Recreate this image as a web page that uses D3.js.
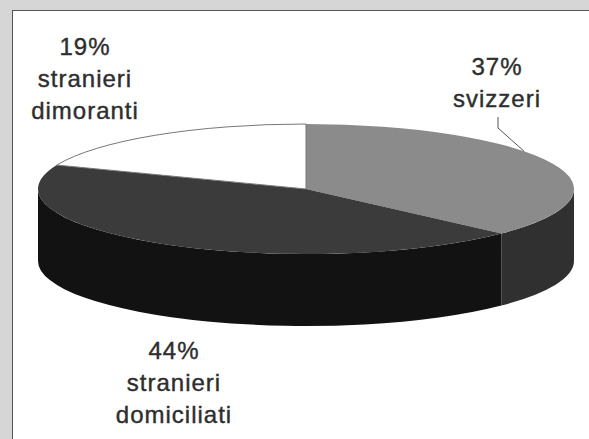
<!DOCTYPE html>
<html>
<head>
<meta charset="utf-8">
<script src="https://cdn.jsdelivr.net/npm/d3@7"></script>
<style>
  html, body { margin: 0; padding: 0; background: #d6d6d6; }
  svg { display: block; }
</style>
</head>
<body>
<svg width="589" height="439"></svg>
<script>
// slice data, clockwise from 12 o'clock
const categories = ['svizzeri', 'stranieri domiciliati', 'stranieri dimoranti'];
const values = [37, 44, 19];
const labelLines = [
  ['37%', 'svizzeri'],
  ['44%', 'stranieri', 'domiciliati'],
  ['19%', 'stranieri', 'dimoranti']
];
const topColors = ['#8b8b8b', '#3b3b3b', '#ffffff'];
const sideColors = ['#303030', '#121212', '#ffffff'];

const svg = d3.select('svg'),
  width = +svg.attr('width'),
  height = +svg.attr('height');

// white panel
svg.append('rect')
  .attr('x', 12.5).attr('y', 10.5)
  .attr('width', width).attr('height', height)
  .attr('fill', '#fff')
  .attr('stroke', '#555')
  .attr('stroke-width', 1);

const cx = 306, cy = 189, rx = 268, ry = 65, depth = 72;

const pie = d3.pie().sort(null).startAngle(0).endAngle(2 * Math.PI);
const arcs = pie(values);

const px = a => cx + rx * Math.sin(a);
const py = (a, dz) => cy - ry * Math.cos(a) + (dz || 0);

function topPath(d) {
  const large = (d.endAngle - d.startAngle) > Math.PI ? 1 : 0;
  return `M${cx},${cy} L${px(d.startAngle)},${py(d.startAngle)} ` +
    `A${rx},${ry} 0 ${large} 1 ${px(d.endAngle)},${py(d.endAngle)} Z`;
}

function sidePath(d) {
  // only front half of the rim is visible
  const a0 = Math.max(d.startAngle, Math.PI / 2);
  const a1 = Math.min(d.endAngle, Math.PI * 1.5);
  if (a1 <= a0) return null;
  return `M${px(a0)},${py(a0)} A${rx},${ry} 0 0 1 ${px(a1)},${py(a1)} ` +
    `L${px(a1)},${py(a1, depth)} A${rx},${ry} 0 0 0 ${px(a0)},${py(a0, depth)} Z`;
}

const g = svg.append('g');

g.selectAll('path.side')
  .data(arcs.filter(d => sidePath(d)))
  .enter().append('path')
  .attr('class', 'side')
  .attr('d', sidePath)
  .attr('fill', d => sideColors[d.index]);

g.selectAll('path.top')
  .data(arcs)
  .enter().append('path')
  .attr('class', 'top')
  .attr('d', topPath)
  .attr('fill', d => topColors[d.index])
  .attr('stroke', d => d.index === 2 ? '#777' : 'none')
  .attr('stroke-width', 1);

// labels
const labelPos = [
  { x: 497, y: 75 },
  { x: 174, y: 359 },
  { x: 85, y: 55 }
];
const lineH = 32;

const labels = svg.append('g')
  .attr('font-family', '"Liberation Sans", Arial, sans-serif')
  .attr('font-size', 24)
  .attr('letter-spacing', 1)
  .attr('fill', '#2e2e2e')
  .attr('stroke', '#2e2e2e')
  .attr('stroke-width', 0.4)
  .attr('text-anchor', 'middle');

labelLines.forEach((lines, i) => {
  const t = labels.append('text')
    .attr('x', labelPos[i].x)
    .attr('y', labelPos[i].y);
  lines.forEach((s, j) => {
    t.append('tspan')
      .attr('x', labelPos[i].x)
      .attr('dy', j === 0 ? 0 : lineH)
      .text(s);
  });
});

// leader line for svizzeri
const la = 0.95;
svg.append('path')
  .attr('d', `M498,117 L498,128 L${px(la)},${py(la)}`)
  .attr('fill', 'none')
  .attr('stroke', '#555')
  .attr('stroke-width', 1);
</script>
</body>
</html>
